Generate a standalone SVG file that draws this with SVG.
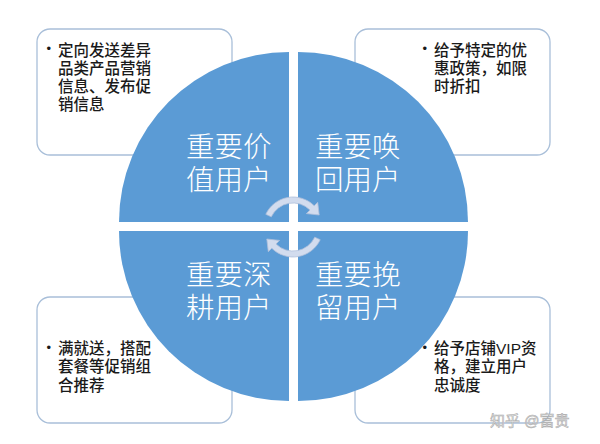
<svg xmlns="http://www.w3.org/2000/svg" width="600" height="444" viewBox="0 0 600 444">
<style>
.box{fill:#ffffff;stroke:#a9bfd9;stroke-width:1.3}
.quad{fill:#5b9bd5}
.big{font-family:"Liberation Sans","Noto Sans CJK SC",sans-serif;font-size:28.5px;font-weight:300;fill:#ffffff}
.body{font-family:"Liberation Sans","Noto Sans CJK SC",sans-serif;font-size:15.5px;font-weight:500;fill:#1a1a1a}
.bul{font-family:"Liberation Sans",sans-serif;font-size:13px;fill:#1a1a1a}
.arc{fill:#d2dcee;stroke:#aebfda;stroke-width:0.8}
.wm{font-family:"Liberation Sans","Noto Sans CJK SC",sans-serif;font-size:15px;fill:#e6e6e6;stroke:#a8a8a8;stroke-width:0.5}
</style>
<rect width="600" height="444" fill="#ffffff"/>
<g id="box-tl">
<rect class="box" x="37" y="29" width="195" height="126" rx="13"/>
<text class="bul" x="46.5" y="53">•</text>
<text class="body"><tspan x="58" y="55.5">定向发送差异</tspan><tspan x="58" y="73.8">品类产品营销</tspan><tspan x="58" y="92.1">信息、发布促</tspan><tspan x="58" y="110.4">销信息</tspan></text>
</g>
<g id="box-tr">
<rect class="box" x="355" y="29" width="195" height="126" rx="13"/>
<text class="bul" x="422.5" y="53">•</text>
<text class="body"><tspan x="434" y="55.5">给予特定的优</tspan><tspan x="434" y="73.8">惠政策，如限</tspan><tspan x="434" y="92.1">时折扣</tspan></text>
</g>
<g id="box-bl">
<rect class="box" x="37" y="297" width="195" height="126" rx="13"/>
<text class="bul" x="46.5" y="352">•</text>
<text class="body"><tspan x="58" y="354">满就送，搭配</tspan><tspan x="58" y="372.3">套餐等促销组</tspan><tspan x="58" y="390.6">合推荐</tspan></text>
</g>
<g id="box-br">
<rect class="box" x="355" y="297" width="195" height="126" rx="13"/>
<text class="bul" x="422.5" y="352">•</text>
<text class="body"><tspan x="434" y="354">给予店铺VIP资</tspan><tspan x="434" y="372.3">格，建立用户</tspan><tspan x="434" y="390.6">忠诚度</tspan></text>
</g>
<g id="quad-tl">
<path class="quad" d="M289 222 L119 222 A170 170 0 0 1 289 52 Z"/>
<text class="big"><tspan x="186" y="157">重要价</tspan><tspan x="186" y="190">值用户</tspan></text>
</g>
<g id="quad-tr">
<path class="quad" d="M298 222 L298 52 A170 170 0 0 1 468 222 Z"/>
<text class="big"><tspan x="315" y="157">重要唤</tspan><tspan x="315" y="190">回用户</tspan></text>
</g>
<g id="quad-bl">
<path class="quad" d="M289 231 L289 401 A170 170 0 0 1 119 231 Z"/>
<text class="big"><tspan x="186" y="285">重要深</tspan><tspan x="186" y="318">耕用户</tspan></text>
</g>
<g id="quad-br">
<path class="quad" d="M298 231 L468 231 A170 170 0 0 1 298 401 Z"/>
<text class="big"><tspan x="315" y="285">重要挽</tspan><tspan x="315" y="318">留用户</tspan></text>
</g>
<g id="connectors">
<path class="arc" d="M271.25 216.86 L265.8 214.3 A30 30 0 0 1 314.2 205.8 L317.7 202.3 L319.2 215 L306.4 213.6 L310 210 A24 24 0 0 0 271.25 216.86 Z"/>
<path class="arc" transform="rotate(180 293 227)" d="M271.25 216.86 L265.8 214.3 A30 30 0 0 1 314.2 205.8 L317.7 202.3 L319.2 215 L306.4 213.6 L310 210 A24 24 0 0 0 271.25 216.86 Z"/>
</g>
<text class="wm" x="490" y="426">知乎 @富贵</text>
</svg>
